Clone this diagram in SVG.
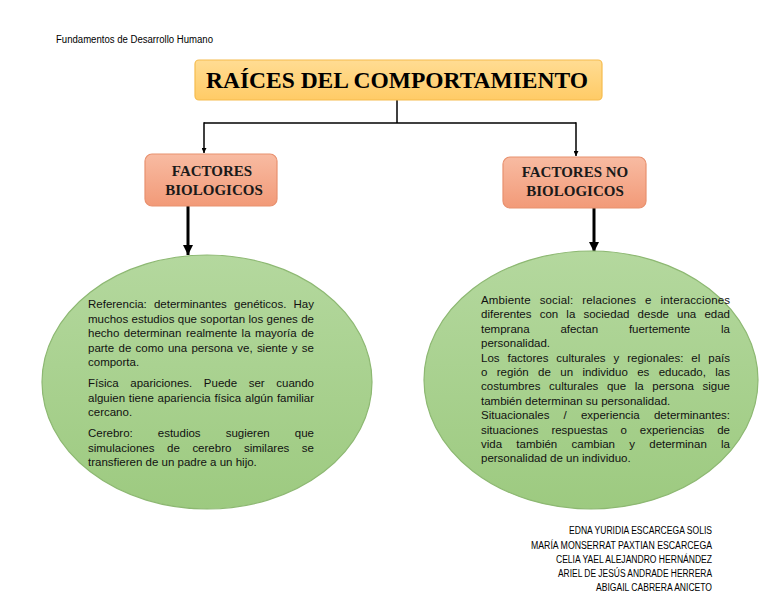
<svg xmlns="http://www.w3.org/2000/svg" width="768" height="594" viewBox="0 0 768 594">
  <defs>
    <linearGradient id="gTitle" x1="0" y1="0" x2="0" y2="1">
      <stop offset="0" stop-color="#FFDC93"/>
      <stop offset="1" stop-color="#FFCB66"/>
    </linearGradient>
    <linearGradient id="gBox" x1="0" y1="0" x2="0" y2="1">
      <stop offset="0" stop-color="#F8BBA2"/>
      <stop offset="1" stop-color="#F29A78"/>
    </linearGradient>
    <linearGradient id="gEll" x1="0" y1="0" x2="0" y2="1">
      <stop offset="0" stop-color="#B4D89E"/>
      <stop offset="1" stop-color="#9DCA80"/>
    </linearGradient>
    <marker id="arrSmall" viewBox="0 0 10 10" refX="10" refY="5" markerWidth="5" markerHeight="5" markerUnits="userSpaceOnUse" orient="auto">
      <path d="M0,0 L10,5 L0,10 z" fill="#000"/>
    </marker>
    <marker id="arrBig" viewBox="0 0 10 10" refX="10" refY="5" markerWidth="11" markerHeight="10" markerUnits="userSpaceOnUse" orient="auto">
      <path d="M0,0 L10,5 L0,10 z" fill="#000"/>
    </marker>
  </defs>
  <style>
    .hdr { font-family: "Liberation Sans", Arial, sans-serif; font-size: 10px; fill: #000; }
    .title { font-family: "Liberation Serif", "Times New Roman", serif; font-weight: bold; font-size: 23px; fill: #000; }
    .boxt { font-family: "Liberation Serif", "Times New Roman", serif; font-weight: bold; font-size: 15px; fill: #1a1a1a; text-anchor: middle; }
    .body { font-family: "Liberation Sans", Arial, sans-serif; font-size: 11.5px; fill: #111; }
    .thin { stroke: #000; stroke-width: 1.5; fill: none; }
    .thick { stroke: #000; stroke-width: 3; fill: none; }
  </style>

  <rect width="768" height="594" fill="#fff"/>

  <text class="hdr" x="56" y="43" textLength="157" lengthAdjust="spacingAndGlyphs">Fundamentos de Desarrollo Humano</text>

  <g id="connectors">
    <path class="thin" d="M397,100 V123"/>
    <path class="thin" d="M204,123 H576"/>
    <path class="thin" d="M204,122.3 V153" marker-end="url(#arrSmall)"/>
    <path class="thin" d="M576,122.3 V156" marker-end="url(#arrSmall)"/>
    <path class="thick" d="M188,206 V255" marker-end="url(#arrBig)"/>
    <path class="thick" d="M594,208 V252" marker-end="url(#arrBig)"/>
  </g>

  <g id="title">
    <rect x="195" y="60" width="407" height="40" rx="4" fill="url(#gTitle)" stroke="#F5BC4F" stroke-width="1.2"/>
    <text class="title" x="206" y="88" textLength="382" lengthAdjust="spacingAndGlyphs">RAÍCES DEL COMPORTAMIENTO</text>
  </g>

  <g id="factores-biologicos">
    <rect x="145" y="154" width="132" height="52" rx="7" fill="url(#gBox)" stroke="#E8916F" stroke-width="1.2"/>
    <text class="boxt" x="212" y="176">FACTORES</text>
    <text class="boxt" x="214" y="195">BIOLOGICOS</text>
  </g>

  <g id="factores-no-biologicos">
    <rect x="503" y="157" width="143" height="51" rx="7" fill="url(#gBox)" stroke="#E8916F" stroke-width="1.2"/>
    <text class="boxt" x="575" y="177">FACTORES NO</text>
    <text class="boxt" x="575" y="196">BIOLOGICOS</text>
  </g>

  <g id="ellipse-biologicos">
    <ellipse cx="207" cy="382" rx="165" ry="127" fill="url(#gEll)" stroke="#8DB872" stroke-width="1.2"/>
    <text class="body" x="88" y="308" word-spacing="3.97" textLength="226" lengthAdjust="spacing">Referencia: determinantes genéticos. Hay</text>
    <text class="body" x="88" y="322.5" word-spacing="0.17" textLength="226" lengthAdjust="spacing">muchos estudios que soportan los genes de</text>
    <text class="body" x="88" y="337" word-spacing="1.36" textLength="226" lengthAdjust="spacing">hecho determinan realmente la mayoría de</text>
    <text class="body" x="88" y="351.5" word-spacing="1.09" textLength="226" lengthAdjust="spacing">parte de como una persona ve, siente y se</text>
    <text class="body" x="88" y="366">comporta.</text>
    <text class="body" x="88" y="387" word-spacing="8.4" textLength="226" lengthAdjust="spacing">Física apariciones. Puede ser cuando</text>
    <text class="body" x="88" y="401.5" word-spacing="0.58" textLength="226" lengthAdjust="spacing">alguien tiene apariencia física algún familiar</text>
    <text class="body" x="88" y="416">cercano.</text>
    <text class="body" x="88" y="437" word-spacing="21.9" textLength="226" lengthAdjust="spacing">Cerebro: estudios sugieren que</text>
    <text class="body" x="88" y="451.5" word-spacing="9.4" textLength="226" lengthAdjust="spacing">simulaciones de cerebro similares se</text>
    <text class="body" x="88" y="466">transfieren de un padre a un hijo.</text>
  </g>

  <g id="ellipse-no-biologicos">
    <ellipse cx="591" cy="380" rx="167" ry="129" fill="url(#gEll)" stroke="#8DB872" stroke-width="1.2"/>
    <text class="body" x="481" y="304" word-spacing="5.68" textLength="249" lengthAdjust="spacing">Ambiente social: relaciones e interacciones</text>
    <text class="body" x="481" y="318.4" word-spacing="4.95" textLength="249" lengthAdjust="spacing">diferentes con la sociedad desde una edad</text>
    <text class="body" x="481" y="332.8" word-spacing="27.6" textLength="249" lengthAdjust="spacing">temprana afectan fuertemente la</text>
    <text class="body" x="481" y="347.2">personalidad.</text>
    <text class="body" x="481" y="361.6" word-spacing="4.75" textLength="249" lengthAdjust="spacing">Los factores culturales y regionales: el país</text>
    <text class="body" x="481" y="376" word-spacing="6.17" textLength="249" lengthAdjust="spacing">o región de un individuo es educado, las</text>
    <text class="body" x="481" y="390.4" word-spacing="5.44" textLength="249" lengthAdjust="spacing">costumbres culturales que la persona sigue</text>
    <text class="body" x="481" y="404.8">también determinan su personalidad.</text>
    <text class="body" x="481" y="419.2" word-spacing="11" textLength="249" lengthAdjust="spacing">Situacionales / experiencia determinantes:</text>
    <text class="body" x="481" y="433.6" word-spacing="9.68" textLength="249" lengthAdjust="spacing">situaciones respuestas o experiencias de</text>
    <text class="body" x="481" y="448" word-spacing="11.06" textLength="249" lengthAdjust="spacing">vida también cambian y determinan la</text>
    <text class="body" x="481" y="462.4">personalidad de un individuo.</text>
  </g>

  <g id="autores">
    <text class="hdr" x="569" y="534" textLength="143" lengthAdjust="spacingAndGlyphs">EDNA YURIDIA ESCARCEGA SOLIS</text>
    <text class="hdr" x="531" y="548.5" textLength="181" lengthAdjust="spacingAndGlyphs">MARÍA MONSERRAT PAXTIAN ESCARCEGA</text>
    <text class="hdr" x="556" y="563" textLength="156" lengthAdjust="spacingAndGlyphs">CELIA YAEL ALEJANDRO HERNÁNDEZ</text>
    <text class="hdr" x="558" y="577" textLength="154" lengthAdjust="spacingAndGlyphs">ARIEL DE JESÚS ANDRADE HERRERA</text>
    <text class="hdr" x="596" y="591" textLength="116" lengthAdjust="spacingAndGlyphs">ABIGAIL CABRERA ANICETO</text>
  </g>
</svg>
